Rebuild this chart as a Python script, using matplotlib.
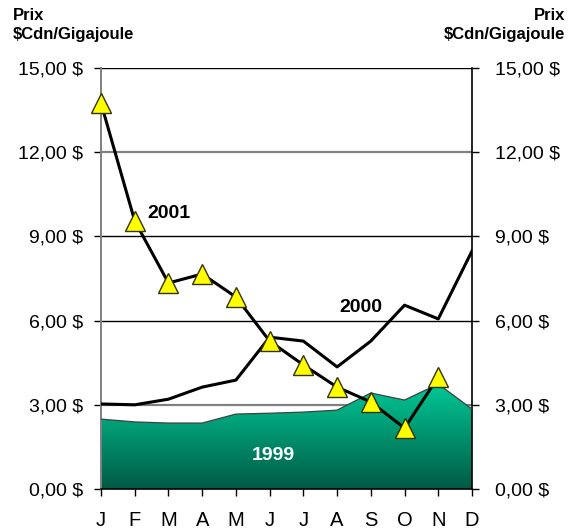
import matplotlib
matplotlib.use("Agg")
import matplotlib.pyplot as plt
import numpy as np
from matplotlib.patches import Polygon
from matplotlib.colors import LinearSegmentedColormap
import matplotlib.transforms as mtrans

months = ["J", "F", "M", "A", "M", "J", "J", "A", "S", "O", "N", "D"]
s1999 = [2.49, 2.39, 2.35, 2.35, 2.67, 2.70, 2.74, 2.81, 3.42, 3.17, 3.74, 2.85]
s2000 = [3.03, 3.00, 3.20, 3.63, 3.88, 5.41, 5.27, 4.35, 5.27, 6.55, 6.06, 8.48]
s2001 = [13.75, 9.55, 7.34, 7.66, 6.84, 5.27, 4.42, 3.63, 3.10, 2.17, 3.99]
yticks = [0, 3, 6, 9, 12, 15]
ylabels = ["0,00 $", "3,00 $", "6,00 $", "9,00 $", "12,00 $", "15,00 $"]

plt.rcParams['font.family'] = ['Liberation Sans', 'DejaVu Sans']

fig = plt.figure(figsize=(5.76, 5.29), dpi=100)
ax = fig.add_axes([101/576, 1-489/529, (472-101)/576, (489-68)/529])
x = np.arange(len(months))
ax.set_xlim(0, 11)
ax.set_ylim(0, 15)

# gridlines
for yv, c, lw in [(3, '#808080', 1.6), (6, 'black', 1.0), (9, 'black', 1.0), (12, '#808080', 1.6), (15, 'black', 1.0)]:
    ax.axhline(yv, color=c, lw=lw, zorder=1)

# gradient area
verts = [(0, 0)] + list(zip(x, s1999)) + [(11, 0)]
poly = Polygon(verts, closed=True, facecolor='none', edgecolor='none')
ax.add_patch(poly)
grad = np.linspace(0, 1, 256).reshape(-1, 1)
cmap = LinearSegmentedColormap.from_list('g', ['#00c896', '#005a44'])
im = ax.imshow(grad, extent=[0, 11, 0, max(s1999)], aspect='auto', cmap=cmap, origin='upper', zorder=2)
im.set_clip_path(poly)
ax.plot(x, s1999, color='#404040', lw=0.9, zorder=3)

ax.plot(x, s2000, color='black', lw=2.2, zorder=4)
ax.plot(x[:len(s2001)], s2001, color='black', lw=2.2, marker='^', markersize=14,
        markerfacecolor='#ffff00', markeredgecolor='#333300', markeredgewidth=1.0, zorder=5, clip_on=False)

ax.text(1.38, 9.83, "2001", fontsize=14, fontweight='bold', ha='left', va='center', zorder=6)
ax.text(7.7, 6.45, "2000", fontsize=14, fontweight='bold', ha='center', va='center', zorder=6)
ax.text(5.1, 1.18, "1999", fontsize=14, fontweight='bold', color='white', ha='center', va='center', zorder=6)

ax.set_xticks(x)
ax.set_xticklabels(months, fontsize=14.5)
ax.set_yticks(yticks)
ax.set_yticklabels(ylabels, fontsize=14)
ax.tick_params(axis='y', which='both', direction='out', length=5, width=1, left=True, right=True,
               labelleft=True, labelright=True, pad=8)
ax.tick_params(axis='x', direction='out', length=5, width=1, pad=11)

ax.spines['top'].set_visible(False)
ax.spines['left'].set_color('#808080')
ax.spines['left'].set_linewidth(1.4)
ax.spines['right'].set_linewidth(1.2)
ax.spines['bottom'].set_linewidth(1.2)
ax.set_facecolor('white')

offset = mtrans.ScaledTranslation(3.5/72, 0, fig.dpi_scale_trans)
for t in ax.yaxis.get_major_ticks():
    t.label2.set_transform(t.label2.get_transform() + offset)

fig.text(13/576, 1-8/529, "Prix", fontsize=12, fontweight='bold', ha='left', va='top')
fig.text(13/576, 1-27/529, "$Cdn/Gigajoule", fontsize=12, fontweight='bold', ha='left', va='top')
fig.text(565/576, 1-8/529, "Prix", fontsize=12, fontweight='bold', ha='right', va='top')
fig.text(565/576, 1-27/529, "$Cdn/Gigajoule", fontsize=12, fontweight='bold', ha='right', va='top')

fig.savefig("out.png", dpi=100)
